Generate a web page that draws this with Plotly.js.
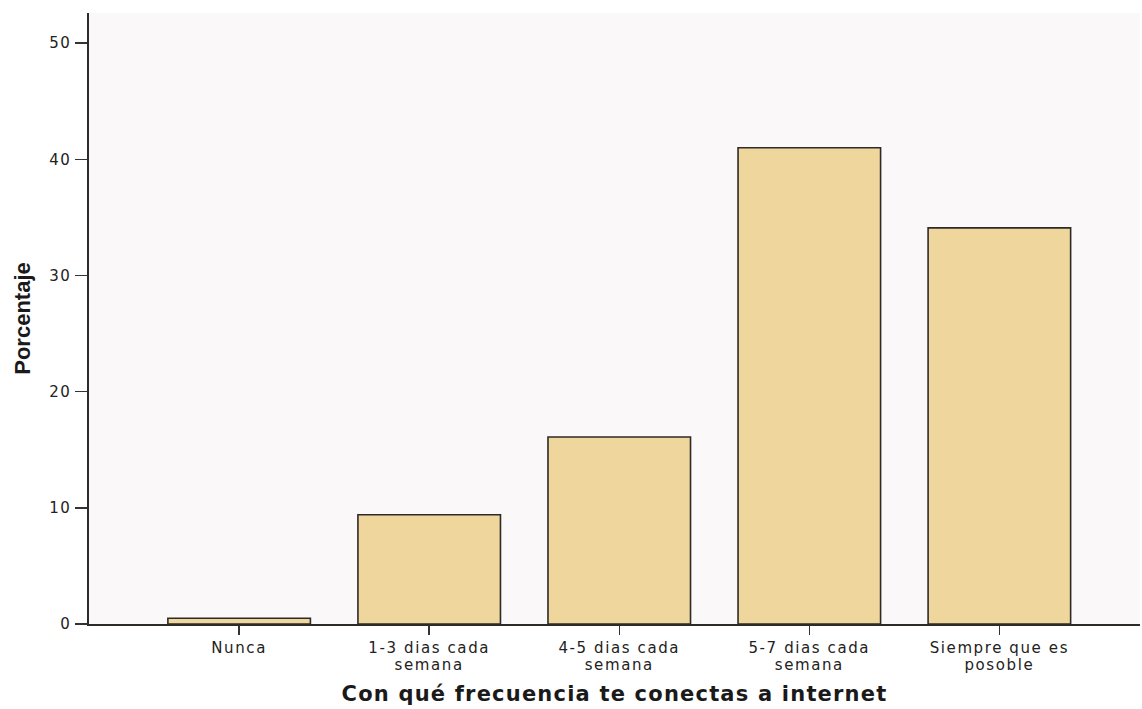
<!DOCTYPE html>
<html>
<head>
<meta charset="utf-8">
<script src="https://cdn.plot.ly/plotly-3.0.1.min.js"></script>
<style>
html,body{margin:0;padding:0;background:#fff;}
#chart{width:1142px;height:709px;}
#chart .xtick text, #chart .ytick text { letter-spacing: 1.6px; }
#chart .xtitle { letter-spacing: 1.2px; }
</style>
</head>
<body>
<div id="chart"></div>
<script>
const categories = ["Nunca", "1-3 dias cada<br>semana", "4-5 dias cada<br>semana", "5-7 dias cada<br>semana", "Siempre que es<br>posoble"];
const porcentaje = [0.5, 9.4, 16.1, 41.0, 34.1];
const yTicks = [0, 10, 20, 30, 40, 50];

const trace = {
  type: "bar",
  x: [0, 1, 2, 3, 4],
  y: porcentaje,
  marker: { color: "#efd69c", line: { color: "#2e2a28", width: 1.6 } },
  hoverinfo: "skip"
};

const layout = {
  width: 1142, height: 709,
  margin: { l: 89, r: 2, t: 13, b: 85 },
  paper_bgcolor: "#ffffff",
  plot_bgcolor: "#faf8f8",
  bargap: 0.25,
  showlegend: false,
  font: { family: "DejaVu Sans, sans-serif", color: "#222" },
  xaxis: {
    range: [-0.79, 4.74],
    tickmode: "array",
    tickvals: [0, 1, 2, 3, 4],
    ticktext: categories,
    ticks: "outside", ticklen: 9, tickwidth: 1.5, tickcolor: "#333",
    showgrid: false, zeroline: false,
    showline: true, linecolor: "#2e2a28", linewidth: 2,
    tickfont: { size: 15, family: "DejaVu Sans, sans-serif", color: "#222" },
    title: { text: "Con qué frecuencia te conectas a internet", font: { size: 21, family: "DejaVu Sans, sans-serif", color: "#1a1a1a", weight: "bold" }, standoff: 11 }
  },
  yaxis: {
    range: [0, 52.6],
    tickmode: "array",
    tickvals: yTicks,
    ticks: "outside", ticklen: 12, tickwidth: 1.5, tickcolor: "#333",
    showgrid: false, zeroline: false,
    showline: true, linecolor: "#2e2a28", linewidth: 2.5,
    tickfont: { size: 15, family: "DejaVu Sans, sans-serif", color: "#222" },
    title: { text: "Porcentaje", font: { size: 22, family: "Liberation Sans, Arial, sans-serif", color: "#1a1a1a", weight: "bold" }, standoff: 16 }
  }
};

Plotly.newPlot("chart", [trace], layout, { staticPlot: true, displayModeBar: false }).then(function (gd) {
  // tighten the line spacing of the two-line category labels
  gd.querySelectorAll(".xtick text tspan.line").forEach(function (t) {
    const dy = t.getAttribute("dy");
    if (dy && parseFloat(dy) > 0) t.setAttribute("dy", "1.15em");
  });
});
</script>
</body>
</html>
